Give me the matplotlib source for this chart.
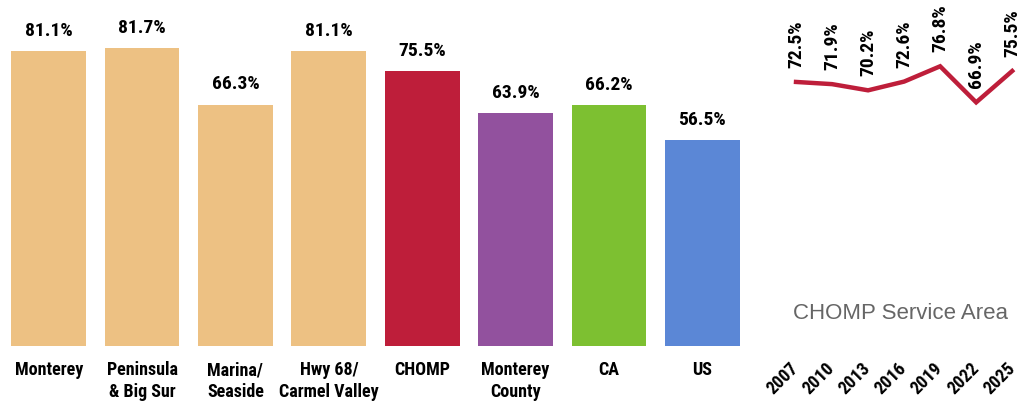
import matplotlib
matplotlib.use("Agg")
import matplotlib.pyplot as plt
from matplotlib import font_manager

# narrow bold font like Arial Narrow, first one that is installed
names = {f.name for f in font_manager.fontManager.ttflist}
narrow = 'DejaVu Sans'
for n in ['Liberation Sans Narrow', 'Arial Narrow', 'Roboto Condensed', 'PT Sans Narrow',
          'Open Sans Condensed', 'Archivo Narrow', 'Asap Condensed', 'Barlow Condensed']:
    if n in names:
        narrow = n
        break
plt.rcParams['font.family'] = [narrow, 'DejaVu Sans']

# DATA
regions = ['Monterey', 'Peninsula\n& Big Sur', 'Marina/\nSeaside', 'Hwy 68/\nCarmel Valley',
           'CHOMP', 'Monterey\nCounty', 'CA', 'US']
values = [81.1, 81.7, 66.3, 81.1, 75.5, 63.9, 66.2, 56.5]
colors = ['#EDC183', '#EDC183', '#EDC183', '#EDC183', '#BE1E3A', '#92519E', '#7DC031', '#5B87D6']

years = ['2007', '2010', '2013', '2016', '2019', '2022', '2025']
trend = [72.5, 71.9, 70.2, 72.6, 76.8, 66.9, 75.5]

W, H = 1023, 403
fig = plt.figure(figsize=(W / 100, H / 100), dpi=100)

# bar chart
ax = fig.add_axes([2 / W, (H - 346) / H, 747 / W, 346 / H])
x = range(len(regions))
ax.bar(x, values, width=0.8, color=colors)
for i, v in enumerate(values):
    ax.annotate(f'{v}%', (i, v), xytext=(0, 8), textcoords='offset points',
                ha='center', va='bottom', fontsize=14, fontweight='bold')
ax.set_xlim(-0.5, 7.5)
ax.set_ylim(0, 95)
ax.set_xticks(list(x))
ax.set_xticklabels(regions, fontsize=13, fontweight='bold', linespacing=1.3)
ax.tick_params(axis='x', length=0, pad=11)
ax.set_yticks([])
for s in ax.spines.values():
    s.set_visible(False)

# trend line
ax2 = fig.add_axes([778 / W, (H - 346) / H, 245 / W, 346 / H])
xi = range(len(years))
ax2.plot(xi, trend, color='#BE1E3A', lw=3.2, solid_joinstyle='miter')
for i, v in enumerate(trend):
    ax2.annotate(f'{v}%', (i, v), xytext=(0, 10), textcoords='offset points',
                 ha='center', va='bottom', rotation=90, fontsize=14, fontweight='bold')
ax2.set_xlim(-0.5, 6.3)
ax2.set_ylim(0, 95)
ax2.set_xticks(list(xi))
ax2.set_xticklabels(years, rotation=45, ha='right', va='center', rotation_mode='anchor',
                    fontsize=13, fontweight='bold')
ax2.tick_params(axis='x', length=0, pad=14)
ax2.set_yticks([])
for s in ax2.spines.values():
    s.set_visible(False)
ax2.text(0.5, 0.095, 'CHOMP Service Area', transform=ax2.transAxes, ha='center', va='center',
         fontsize=16, color='#666666', family=['Liberation Sans', 'DejaVu Sans'])

fig.savefig('out.png', dpi=100)
